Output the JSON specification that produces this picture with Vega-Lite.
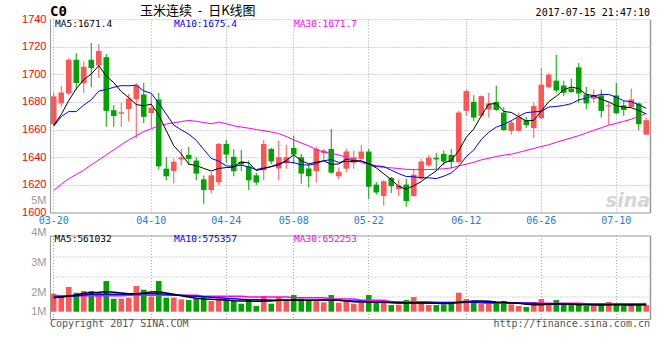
{
"$schema": "https://vega.github.io/schema/vega-lite/v6.json",
"background": "white",
"padding": {"left": 21, "top": 4, "right": 5, "bottom": 5},
"bounds": "flush",
"spacing": 22.5,
"config": {"view": {"stroke": null}},
"datasets": {"k": [
{"d":"03-20","o":1663.9,"h":1686.6,"l":1662.5,"c":1684.0,"m5":1663,"m10":1662.5,"m30":1616.0,"v":1440000,"v5":1120000,"v10":1173000,"v30":1280000},
{"d":"03-21","o":1678.9,"h":1691.4,"l":1676.3,"c":1686.8,"m5":1671,"m10":1669.5,"m30":1620.5,"v":1173000,"v5":1173000,"v10":1200000,"v30":1280000},
{"d":"03-22","o":1686.1,"h":1711.6,"l":1685.0,"c":1710.5,"m5":1681,"m10":1673,"m30":1624.5,"v":1973000,"v5":1253000,"v10":1227000,"v30":1280000},
{"d":"03-23","o":1710.5,"h":1715.2,"l":1689.0,"c":1693.7,"m5":1689.5,"m10":1673,"m30":1627.5,"v":1520000,"v5":1333000,"v10":1253000,"v30":1280000},
{"d":"03-24","o":1693.5,"h":1709.3,"l":1686.6,"c":1705.4,"m5":1696.1,"m10":1677.7,"m30":1630.6,"v":1653000,"v5":1467000,"v10":1333000,"v30":1280000},
{"d":"03-27","o":1710.5,"h":1722.6,"l":1690.6,"c":1704.5,"m5":1700.2,"m10":1681.6,"m30":1634.5,"v":1653000,"v5":1520000,"v10":1387000,"v30":1280000},
{"d":"03-28","o":1706.4,"h":1721.7,"l":1697.3,"c":1716.9,"m5":1706.2,"m10":1687.8,"m30":1638.0,"v":1520000,"v5":1547000,"v10":1387000,"v30":1280000},
{"d":"03-29","o":1712.4,"h":1714.7,"l":1662.0,"c":1673.5,"m5":1698.8,"m10":1689.0,"m30":1641.7,"v":2453000,"v5":1600000,"v10":1387000,"v30":1280000},
{"d":"03-30","o":1673.9,"h":1677.7,"l":1662.0,"c":1669.9,"m5":1694.0,"m10":1690.6,"m30":1645.4,"v":1040000,"v5":1547000,"v10":1387000,"v30":1280000},
{"d":"03-31","o":1671.5,"h":1679.4,"l":1662.0,"c":1672.5,"m5":1687.5,"m10":1691.8,"m30":1649.0,"v":1040000,"v5":1493000,"v10":1387000,"v30":1280000},
{"d":"04-05","o":1674.9,"h":1685.9,"l":1665.8,"c":1682.5,"m5":1683.1,"m10":1691.65,"m30":1652.5,"v":1120000,"v5":1440000,"v10":1387000,"v30":1307000},
{"d":"04-06","o":1682.0,"h":1693.5,"l":1653.6,"c":1692.1,"m5":1678.1,"m10":1692.15,"m30":1655.5,"v":2053000,"v5":1440000,"v10":1413000,"v30":1307000},
{"d":"04-07","o":1685.4,"h":1693.7,"l":1664.6,"c":1669.2,"m5":1677.2,"m10":1688.0,"m30":1658.6,"v":1760000,"v5":1493000,"v10":1440000,"v30":1307000},
{"d":"04-10","o":1672.0,"h":1685.4,"l":1661.0,"c":1675.8,"m5":1678.4,"m10":1686.2,"m30":1660.6,"v":1200000,"v5":1573000,"v10":1440000,"v30":1307000},
{"d":"04-11","o":1681.8,"h":1686.6,"l":1631.0,"c":1633.4,"m5":1670.6,"m10":1679.05,"m30":1662.8,"v":2453000,"v5":1600000,"v10":1440000,"v30":1307000},
{"d":"04-12","o":1631.7,"h":1640.0,"l":1623.3,"c":1626.2,"m5":1659.3,"m10":1671.2,"m30":1664.0,"v":1120000,"v5":1493000,"v10":1387000,"v30":1307000},
{"d":"04-13","o":1630.0,"h":1638.9,"l":1621.0,"c":1636.7,"m5":1648.3,"m10":1663.2,"m30":1665.0,"v":1120000,"v5":1387000,"v10":1333000,"v30":1307000},
{"d":"04-14","o":1638.4,"h":1646.0,"l":1634.1,"c":1639.8,"m5":1642.4,"m10":1659.8,"m30":1665.8,"v":987000,"v5":1280000,"v10":1307000,"v30":1307000},
{"d":"04-17","o":1641.7,"h":1647.4,"l":1634.1,"c":1638.8,"m5":1635.0,"m10":1656.7,"m30":1666.6,"v":933000,"v5":1173000,"v10":1253000,"v30":1307000},
{"d":"04-18","o":1637.6,"h":1640.0,"l":1623.3,"c":1628.1,"m5":1633.9,"m10":1652.25,"m30":1666.0,"v":1040000,"v5":1067000,"v10":1227000,"v30":1307000},
{"d":"04-19","o":1624.0,"h":1626.8,"l":1606.1,"c":1616.2,"m5":1631.9,"m10":1645.6,"m30":1665.1,"v":1200000,"v5":1013000,"v10":1200000,"v30":1227000},
{"d":"04-20","o":1616.2,"h":1629.2,"l":1613.8,"c":1626.9,"m5":1630.0,"m10":1639.15,"m30":1664.2,"v":853000,"v5":987000,"v10":1147000,"v30":1227000},
{"d":"04-21","o":1621.9,"h":1650.3,"l":1619.7,"c":1649.6,"m5":1631.9,"m10":1637.15,"m30":1665.4,"v":1067000,"v5":960000,"v10":1120000,"v30":1227000},
{"d":"04-24","o":1649.6,"h":1652.4,"l":1636.0,"c":1641.9,"m5":1632.5,"m10":1633.75,"m30":1664.2,"v":960000,"v5":933000,"v10":1067000,"v30":1227000},
{"d":"04-25","o":1640.3,"h":1645.8,"l":1626.2,"c":1629.8,"m5":1632.9,"m10":1633.4,"m30":1662.7,"v":853000,"v5":880000,"v10":1040000,"v30":1227000},
{"d":"04-26","o":1636.7,"h":1645.2,"l":1630.0,"c":1634.8,"m5":1636.6,"m10":1634.25,"m30":1661.8,"v":640000,"v5":853000,"v10":987000,"v30":1227000},
{"d":"04-27","o":1633.4,"h":1637.6,"l":1616.2,"c":1623.3,"m5":1635.9,"m10":1632.95,"m30":1661.0,"v":1013000,"v5":853000,"v10":960000,"v30":1173000},
{"d":"04-28","o":1626.9,"h":1628.6,"l":1619.7,"c":1621.7,"m5":1630.3,"m10":1631.1,"m30":1660.0,"v":453000,"v5":827000,"v10":960000,"v30":1173000},
{"d":"05-02","o":1630.5,"h":1652.4,"l":1623.3,"c":1649.6,"m5":1631.8,"m10":1632.15,"m30":1659.2,"v":1253000,"v5":853000,"v10":933000,"v30":1173000},
{"d":"05-03","o":1646.0,"h":1646.7,"l":1634.8,"c":1636.9,"m5":1633.3,"m10":1633.1,"m30":1658.2,"v":640000,"v5":853000,"v10":933000,"v30":1173000},
{"d":"05-04","o":1631.9,"h":1652.0,"l":1623.3,"c":1640.0,"m5":1634.3,"m10":1635.45,"m30":1657.0,"v":1173000,"v5":907000,"v10":907000,"v30":1173000},
{"d":"05-05","o":1635.7,"h":1649.0,"l":1631.7,"c":1640.0,"m5":1637.6,"m10":1636.75,"m30":1655.0,"v":1013000,"v5":907000,"v10":907000,"v30":1173000},
{"d":"05-08","o":1646.7,"h":1655.6,"l":1635.3,"c":1641.9,"m5":1641.7,"m10":1636.0,"m30":1652.5,"v":1333000,"v5":933000,"v10":907000,"v30":1120000},
{"d":"05-09","o":1640.0,"h":1642.4,"l":1620.9,"c":1628.1,"m5":1637.4,"m10":1634.6,"m30":1650.3,"v":1040000,"v5":907000,"v10":907000,"v30":1120000},
{"d":"05-10","o":1631.9,"h":1635.3,"l":1618.0,"c":1626.2,"m5":1635.2,"m10":1634.25,"m30":1648.2,"v":853000,"v5":907000,"v10":907000,"v30":1120000},
{"d":"05-11","o":1629.8,"h":1647.7,"l":1621.7,"c":1646.0,"m5":1636.4,"m10":1635.35,"m30":1645.5,"v":853000,"v5":907000,"v10":907000,"v30":1120000},
{"d":"05-12","o":1643.1,"h":1646.0,"l":1637.6,"c":1644.8,"m5":1637.4,"m10":1637.5,"m30":1643.8,"v":747000,"v5":933000,"v10":933000,"v30":1120000},
{"d":"05-15","o":1646.0,"h":1660.4,"l":1628.1,"c":1628.8,"m5":1634.8,"m10":1638.25,"m30":1642.8,"v":1333000,"v5":960000,"v10":933000,"v30":1013000},
{"d":"05-16","o":1626.2,"h":1632.6,"l":1624.0,"c":1629.5,"m5":1635.1,"m10":1636.25,"m30":1641.6,"v":720000,"v5":907000,"v10":907000,"v30":1013000},
{"d":"05-17","o":1631.7,"h":1646.0,"l":1629.0,"c":1644.1,"m5":1638.6,"m10":1636.9,"m30":1640.0,"v":800000,"v5":853000,"v10":880000,"v30":1013000},
{"d":"05-18","o":1636.0,"h":1644.8,"l":1631.7,"c":1640.0,"m5":1637.4,"m10":1636.9,"m30":1638.3,"v":640000,"v5":800000,"v10":853000,"v30":1013000},
{"d":"05-19","o":1638.8,"h":1649.0,"l":1638.0,"c":1644.1,"m5":1637.3,"m10":1637.35,"m30":1636.3,"v":720000,"v5":773000,"v10":827000,"v30":907000},
{"d":"05-22","o":1644.1,"h":1646.0,"l":1609.8,"c":1618.6,"m5":1635.3,"m10":1635.05,"m30":1634.3,"v":1333000,"v5":773000,"v10":800000,"v30":907000},
{"d":"05-23","o":1620.2,"h":1622.1,"l":1613.0,"c":1614.5,"m5":1632.3,"m10":1633.7,"m30":1633.3,"v":773000,"v5":747000,"v10":773000,"v30":907000},
{"d":"05-24","o":1611.9,"h":1623.3,"l":1605.0,"c":1622.6,"m5":1628.0,"m10":1633.3,"m30":1632.6,"v":933000,"v5":747000,"v10":747000,"v30":907000},
{"d":"05-25","o":1625.0,"h":1625.7,"l":1614.0,"c":1619.0,"m5":1623.8,"m10":1630.6,"m30":1632.3,"v":533000,"v5":720000,"v10":747000,"v30":800000},
{"d":"05-26","o":1616.9,"h":1623.8,"l":1611.9,"c":1619.7,"m5":1618.9,"m10":1628.1,"m30":1631.8,"v":560000,"v5":693000,"v10":720000,"v30":800000},
{"d":"05-31","o":1620.2,"h":1624.5,"l":1604.2,"c":1608.3,"m5":1616.8,"m10":1626.05,"m30":1631.2,"v":933000,"v5":693000,"v10":720000,"v30":800000},
{"d":"06-01","o":1611.9,"h":1631.7,"l":1611.4,"c":1627.4,"m5":1619.4,"m10":1625.85,"m30":1631.0,"v":1173000,"v5":720000,"v10":693000,"v30":800000},
{"d":"06-02","o":1624.5,"h":1638.8,"l":1623.3,"c":1636.9,"m5":1622.3,"m10":1625.15,"m30":1631.0,"v":720000,"v5":720000,"v10":693000,"v30":800000},
{"d":"06-05","o":1634.1,"h":1641.7,"l":1632.9,"c":1639.6,"m5":1626.4,"m10":1625.1,"m30":1631.1,"v":533000,"v5":693000,"v10":693000,"v30":800000},
{"d":"06-06","o":1639.6,"h":1643.1,"l":1630.0,"c":1638.4,"m5":1630.1,"m10":1624.5,"m30":1631.3,"v":533000,"v5":667000,"v10":693000,"v30":747000},
{"d":"06-07","o":1642.4,"h":1644.8,"l":1634.1,"c":1636.9,"m5":1635.8,"m10":1626.3,"m30":1631.6,"v":560000,"v5":640000,"v10":720000,"v30":747000},
{"d":"06-08","o":1641.7,"h":1646.0,"l":1631.7,"c":1636.5,"m5":1637.7,"m10":1628.55,"m30":1632.3,"v":747000,"v5":667000,"v10":720000,"v30":747000},
{"d":"06-09","o":1636.5,"h":1673.5,"l":1635.3,"c":1672.3,"m5":1644.7,"m10":1633.5,"m30":1633.6,"v":1520000,"v5":747000,"v10":720000,"v30":747000},
{"d":"06-12","o":1673.5,"h":1689.0,"l":1669.9,"c":1687.8,"m5":1654.4,"m10":1640.4,"m30":1635.0,"v":1013000,"v5":800000,"v10":747000,"v30":747000},
{"d":"06-13","o":1680.1,"h":1684.9,"l":1666.3,"c":1668.7,"m5":1660.4,"m10":1645.25,"m30":1636.3,"v":853000,"v5":853000,"v10":747000,"v30":747000},
{"d":"06-14","o":1669.9,"h":1684.7,"l":1668.7,"c":1684.2,"m5":1669.9,"m10":1652.85,"m30":1638.1,"v":613000,"v5":853000,"v10":747000,"v30":693000},
{"d":"06-15","o":1674.6,"h":1686.6,"l":1668.7,"c":1678.9,"m5":1678.4,"m10":1658.05,"m30":1639.2,"v":640000,"v5":827000,"v10":720000,"v30":693000},
{"d":"06-16","o":1680.1,"h":1691.8,"l":1673.5,"c":1674.2,"m5":1678.8,"m10":1661.75,"m30":1640.5,"v":720000,"v5":773000,"v10":720000,"v30":693000},
{"d":"06-19","o":1672.3,"h":1676.3,"l":1659.1,"c":1659.6,"m5":1673.1,"m10":1663.75,"m30":1641.5,"v":853000,"v5":747000,"v10":720000,"v30":693000},
{"d":"06-20","o":1659.1,"h":1666.8,"l":1656.3,"c":1665.1,"m5":1672.4,"m10":1666.4,"m30":1642.2,"v":587000,"v5":720000,"v10":693000,"v30":693000},
{"d":"06-21","o":1659.1,"h":1672.3,"l":1658.6,"c":1668.7,"m5":1669.3,"m10":1669.6,"m30":1643.5,"v":453000,"v5":667000,"v10":693000,"v30":693000},
{"d":"06-22","o":1666.8,"h":1669.2,"l":1661.0,"c":1663.2,"m5":1666.2,"m10":1672.3,"m30":1645.0,"v":373000,"v5":587000,"v10":667000,"v30":693000},
{"d":"06-23","o":1661.0,"h":1679.4,"l":1653.9,"c":1677.0,"m5":1666.7,"m10":1672.75,"m30":1646.3,"v":773000,"v5":560000,"v10":667000,"v30":667000},
{"d":"06-26","o":1668.2,"h":1704.5,"l":1667.5,"c":1692.5,"m5":1673.3,"m10":1673.2,"m30":1647.8,"v":1013000,"v5":560000,"v10":640000,"v30":667000},
{"d":"06-27","o":1690.6,"h":1700.9,"l":1690.1,"c":1699.7,"m5":1680.2,"m10":1676.3,"m30":1649.0,"v":587000,"v5":587000,"v10":613000,"v30":667000},
{"d":"06-28","o":1695.4,"h":1714.0,"l":1686.6,"c":1688.3,"m5":1684.1,"m10":1676.7,"m30":1650.8,"v":933000,"v5":613000,"v10":613000,"v30":667000},
{"d":"06-29","o":1691.8,"h":1695.4,"l":1684.2,"c":1686.6,"m5":1688.8,"m10":1677.5,"m30":1652.4,"v":587000,"v5":613000,"v10":587000,"v30":667000},
{"d":"06-30","o":1689.7,"h":1696.8,"l":1686.6,"c":1687.1,"m5":1690.8,"m10":1678.75,"m30":1654.0,"v":533000,"v5":587000,"v10":587000,"v30":667000},
{"d":"07-03","o":1705.0,"h":1708.1,"l":1679.4,"c":1686.1,"m5":1689.6,"m10":1681.45,"m30":1655.6,"v":587000,"v5":560000,"v10":587000,"v30":667000},
{"d":"07-04","o":1685.4,"h":1690.8,"l":1674.6,"c":1678.9,"m5":1685.4,"m10":1682.8,"m30":1657.5,"v":480000,"v5":560000,"v10":587000,"v30":640000},
{"d":"07-05","o":1682.3,"h":1689.0,"l":1679.4,"c":1684.2,"m5":1684.6,"m10":1684.35,"m30":1659.5,"v":453000,"v5":533000,"v10":573000,"v30":640000},
{"d":"07-06","o":1684.7,"h":1689.0,"l":1668.7,"c":1673.5,"m5":1682.0,"m10":1685.4,"m30":1661.3,"v":587000,"v5":533000,"v10":573000,"v30":640000},
{"d":"07-07","o":1676.8,"h":1679.6,"l":1663.4,"c":1677.5,"m5":1680.0,"m10":1685.4,"m30":1663.2,"v":773000,"v5":560000,"v10":573000,"v30":640000},
{"d":"07-10","o":1684.7,"h":1693.7,"l":1671.1,"c":1671.8,"m5":1677.2,"m10":1683.4,"m30":1664.5,"v":693000,"v5":560000,"v10":573000,"v30":640000},
{"d":"07-11","o":1677.5,"h":1680.6,"l":1669.9,"c":1674.2,"m5":1676.2,"m10":1680.8,"m30":1666.0,"v":453000,"v5":533000,"v10":573000,"v30":640000},
{"d":"07-12","o":1676.3,"h":1689.7,"l":1675.8,"c":1681.8,"m5":1675.8,"m10":1680.2,"m30":1667.5,"v":560000,"v5":533000,"v10":573000,"v30":640000},
{"d":"07-13","o":1678.9,"h":1679.4,"l":1659.6,"c":1663.9,"m5":1673.8,"m10":1677.9,"m30":1669.5,"v":693000,"v5":547000,"v10":575000,"v30":640000},
{"d":"07-14","o":1656.3,"h":1668.7,"l":1656.3,"c":1666.8,"m5":1671.4,"m10":1675.4,"m30":1671.7,"v":533000,"v5":561032,"v10":575357,"v30":652253}
]},
"vconcat": [
{
"width": 600, "height": 193.5,
"data": {"name": "k"},
"layer": [
{"mark": {"type": "rule", "strokeWidth": 1},
 "encoding": {
  "x": {"field": "d", "type": "ordinal", "scale": {"type": "band", "paddingInner": 0, "paddingOuter": 0},
   "axis": {"values": ["03-20","04-10","04-24","05-08","05-22","06-12","06-26","07-10"], "labelColor": "#1C7ED6", "labelFont": "DejaVu Sans Mono", "labelFontSize": 10, "labelPadding": 3, "labelAngle": 0, "labelOverlap": false, "ticks": false, "domain": true, "domainColor": "#999999", "grid": true, "gridColor": "#AAAAAA", "gridDash": [1,2], "bandPosition": 0.5, "title": null}},
  "y": {"field": "l", "type": "quantitative", "scale": {"domain": [1600, 1740], "nice": false, "zero": false},
   "axis": {"orient": "left", "values": [1600,1608.7,1620,1640,1660,1680,1700,1720,1740], "labelExpr": "datum.value == 1608.7 ? '5M' : format(datum.value, 'd')", "labelColor": {"condition": {"test": "datum.value == 1608.7", "value": "#999999"}, "value": "#FF0000"}, "labelFont": "Liberation Sans", "labelFontSize": 11, "labelPadding": 4, "labelFlush": false, "labelOverlap": false, "ticks": false, "domain": true, "domainColor": "#999999", "grid": true, "gridColor": "#AAAAAA", "gridDash": [1,2], "gridOpacity": {"condition": {"test": "datum.value < 1610", "value": 0}, "value": 1}, "title": null}},
  "y2": {"field": "h"},
  "color": {"condition": {"test": "datum.c >= datum.o", "value": "#FF5555"}, "value": "#00A300"}
 }},
{"mark": {"type": "bar", "width": {"band": 0.74}},
 "encoding": {
  "x": {"field": "d", "type": "ordinal"},
  "y": {"field": "o", "type": "quantitative", "axis": {"orient": "right", "labels": false, "ticks": false, "grid": false, "domain": true, "domainColor": "#999999", "domainWidth": 1.5, "title": null}},
  "y2": {"field": "c"},
  "color": {"condition": {"test": "datum.c >= datum.o", "value": "#FF5555"}, "value": "#00A300"}
 }},
{"mark": {"type": "line", "color": "#FF00FF", "strokeWidth": 1},
 "encoding": {"x": {"field": "d", "type": "ordinal"}, "y": {"field": "m30", "type": "quantitative", "axis": null}}},
{"mark": {"type": "line", "color": "#0000FF", "strokeWidth": 1},
 "encoding": {"x": {"field": "d", "type": "ordinal"}, "y": {"field": "m10", "type": "quantitative", "axis": null}}},
{"mark": {"type": "line", "color": "#000000", "strokeWidth": 1},
 "encoding": {"x": {"field": "d", "type": "ordinal"}, "y": {"field": "m5", "type": "quantitative", "axis": null}}},
{"data": {"values": [{"t": "MA5:1671.4"}]},
 "mark": {"type": "text", "align": "left", "baseline": "middle", "font": "DejaVu Sans Mono", "fontSize": 9.5, "color": "#000000"},
 "encoding": {"x": {"datum": "03-20", "type": "ordinal", "bandPosition": 0.67}, "y": {"datum": 1736.2, "type": "quantitative", "axis": null}, "text": {"field": "t"}}},
{"data": {"values": [{"t": "MA10:1675.4"}]},
 "mark": {"type": "text", "align": "left", "baseline": "middle", "font": "DejaVu Sans Mono", "fontSize": 9.5, "color": "#0000FF"},
 "encoding": {"x": {"datum": "04-13", "type": "ordinal", "bandPosition": 0.53}, "y": {"datum": 1736.2, "type": "quantitative", "axis": null}, "text": {"field": "t"}}},
{"data": {"values": [{"t": "MA30:1671.7"}]},
 "mark": {"type": "text", "align": "left", "baseline": "middle", "font": "DejaVu Sans Mono", "fontSize": 9.5, "color": "#FF00FF"},
 "encoding": {"x": {"datum": "05-08", "type": "ordinal", "bandPosition": 0.53}, "y": {"datum": 1736.2, "type": "quantitative", "axis": null}, "text": {"field": "t"}}},
{"data": {"values": [{"t": "C0"}]},
 "mark": {"type": "text", "align": "left", "baseline": "middle", "font": "DejaVu Sans Mono", "fontSize": 14, "fontWeight": "bold", "color": "#000000"},
 "encoding": {"x": {"datum": "03-20", "type": "ordinal", "bandPosition": 0}, "y": {"datum": 1745.3, "type": "quantitative", "axis": null}, "text": {"field": "t"}}},
{"data": {"values": [{"t": "玉米连续\u00a0\u00a0-\u00a0\u00a0日K线图"}]},
 "mark": {"type": "text", "align": "left", "baseline": "middle", "font": "Noto Sans CJK SC", "fontSize": 13, "color": "#000000"},
 "encoding": {"x": {"datum": "04-07", "type": "ordinal", "bandPosition": 0}, "y": {"datum": 1745.8, "type": "quantitative", "axis": null}, "text": {"field": "t"}}},
{"data": {"values": [{"t": "2017-07-15 21:47:10"}]},
 "mark": {"type": "text", "align": "right", "baseline": "middle", "font": "DejaVu Sans Mono", "fontSize": 10, "color": "#000000"},
 "encoding": {"x": {"datum": "07-14", "type": "ordinal", "bandPosition": 1}, "y": {"datum": 1744.7, "type": "quantitative", "axis": null}, "text": {"field": "t"}}},
{"data": {"values": [{"t": "sina"}]},
 "mark": {"type": "text", "align": "right", "baseline": "middle", "font": "DejaVu Sans", "fontSize": 19, "fontWeight": "bold", "fontStyle": "italic", "color": "#D6D6D6"},
 "encoding": {"x": {"datum": "07-14", "type": "ordinal", "bandPosition": 1}, "y": {"datum": 1608.5, "type": "quantitative", "axis": null}, "text": {"field": "t"}}}
],
"resolve": {"axis": {"y": "independent"}}
},
{
"width": 600, "height": 83.5,
"data": {"name": "k"},
"layer": [
{"mark": {"type": "bar", "width": {"band": 0.74}},
 "encoding": {
  "x": {"field": "d", "type": "ordinal", "scale": {"type": "band", "paddingInner": 0, "paddingOuter": 0},
   "axis": {"values": ["03-20","04-10","04-24","05-08","05-22","06-12","06-26","07-10"], "labels": false, "ticks": false, "domain": true, "domainColor": "#999999", "grid": true, "gridColor": "#AAAAAA", "gridDash": [1,2], "bandPosition": 0.5, "title": null}},
  "y": {"field": "v", "type": "quantitative", "scale": {"domain": [-584000, 6096000], "nice": false, "zero": false},
   "axis": {"orient": "left", "values": [0, 1576000, 3976000, 6096000], "labelExpr": "datum.value > 5000000 ? '4M' : datum.value > 3000000 ? '3M' : datum.value > 1000000 ? '2M' : '1M'", "labelColor": "#999999", "labelFont": "Liberation Sans", "labelFontSize": 11, "labelPadding": 4, "labelFlush": false, "labelOverlap": false, "labelBaseline": {"condition": {"test": "datum.value > 6000000", "value": "alphabetic"}, "value": "middle"}, "ticks": false, "grid": false, "domain": true, "domainColor": "#999999", "title": null}},
  "y2": {"datum": 0},
  "color": {"condition": {"test": "datum.c >= datum.o", "value": "#FF5555"}, "value": "#00A300"}
 }},
{"mark": {"type": "line", "color": "#FF00FF", "strokeWidth": 1.5},
 "encoding": {"x": {"field": "d", "type": "ordinal", "axis": {"orient": "top", "labels": false, "ticks": false, "grid": false, "domain": true, "domainColor": "#999999", "title": null}},
  "y": {"field": "v30", "type": "quantitative", "axis": {"orient": "right", "labels": false, "ticks": false, "grid": false, "domain": true, "domainColor": "#999999", "domainWidth": 1.5, "title": null}}}},
{"mark": {"type": "line", "color": "#0000FF", "strokeWidth": 1.5},
 "encoding": {"x": {"field": "d", "type": "ordinal", "axis": null},
  "y": {"field": "v10", "type": "quantitative", "axis": {"orient": "left", "values": [1200000, 2856000, 4456000], "labels": false, "ticks": false, "domain": false, "grid": true, "gridColor": "#AAAAAA", "gridDash": [1,2], "title": null}}}},
{"mark": {"type": "line", "color": "#000000", "strokeWidth": 1.5},
 "encoding": {"x": {"field": "d", "type": "ordinal", "axis": null}, "y": {"field": "v5", "type": "quantitative", "axis": null}}},
{"data": {"values": [{"t": "MA5:561032"}]},
 "mark": {"type": "text", "align": "left", "baseline": "middle", "font": "DejaVu Sans Mono", "fontSize": 9.5, "color": "#000000"},
 "encoding": {"x": {"datum": "03-20", "type": "ordinal", "bandPosition": 0.6, "axis": null}, "y": {"datum": 5790000, "type": "quantitative", "axis": null}, "text": {"field": "t"}}},
{"data": {"values": [{"t": "MA10:575357"}]},
 "mark": {"type": "text", "align": "left", "baseline": "middle", "font": "DejaVu Sans Mono", "fontSize": 9.5, "color": "#0000FF"},
 "encoding": {"x": {"datum": "04-13", "type": "ordinal", "bandPosition": 0.53, "axis": null}, "y": {"datum": 5790000, "type": "quantitative", "axis": null}, "text": {"field": "t"}}},
{"data": {"values": [{"t": "MA30:652253"}]},
 "mark": {"type": "text", "align": "left", "baseline": "middle", "font": "DejaVu Sans Mono", "fontSize": 9.5, "color": "#FF00FF"},
 "encoding": {"x": {"datum": "05-08", "type": "ordinal", "bandPosition": 0.53, "axis": null}, "y": {"datum": 5790000, "type": "quantitative", "axis": null}, "text": {"field": "t"}}},
{"data": {"values": [{"t": "Copyright 2017 SINA.COM"}]},
 "mark": {"type": "text", "align": "left", "baseline": "middle", "font": "DejaVu Sans Mono", "fontSize": 10, "color": "#555555"},
 "encoding": {"x": {"datum": "03-20", "type": "ordinal", "bandPosition": 0, "axis": null}, "y": {"datum": -984000, "type": "quantitative", "axis": null}, "text": {"field": "t"}}},
{"data": {"values": [{"t": "http://finance.sina.com.cn"}]},
 "mark": {"type": "text", "align": "right", "baseline": "middle", "font": "DejaVu Sans Mono", "fontSize": 10, "color": "#555555"},
 "encoding": {"x": {"datum": "07-14", "type": "ordinal", "bandPosition": 1, "axis": null}, "y": {"datum": -1010000, "type": "quantitative", "axis": null}, "text": {"field": "t"}}}
],
"resolve": {"axis": {"y": "independent", "x": "independent"}}
}
]
}
